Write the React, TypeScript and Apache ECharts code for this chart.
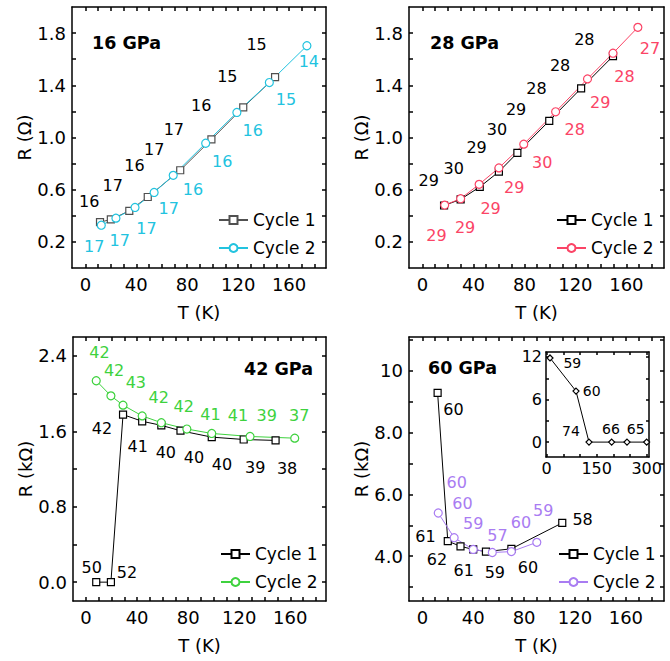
import React, { useEffect, useRef } from "react";
import * as echarts from "echarts";

const FONT = "'DejaVu Sans', sans-serif";

// ---------- tick values / labels ----------
const tTicks = [0, 10, 20, 30, 40, 50, 60, 70, 80, 90, 100, 110, 120, 130, 140, 150, 160, 170, 180];
const tLabels = [0, 40, 80, 120, 160];
const ohmTicks = [0.2, 0.4, 0.6, 0.8, 1.0, 1.2, 1.4, 1.6, 1.8];
const ohmLabels = [0.2, 0.6, 1.0, 1.4, 1.8];
const k42Ticks = [0, 0.4, 0.8, 1.2, 1.6, 2.0, 2.4];
const k42Labels = [0, 0.8, 1.6, 2.4];
const k60Ticks = [3, 4, 5, 6, 7, 8, 9, 10, 11];
const k60Labels = [4, 6, 8, 10];
const insetTTicks = [0, 50, 100, 150, 200, 250, 300];
const insetTLabels = [0, 150, 300];
const insetRTicks = [0, 3, 6, 9, 12];
const insetRLabels = [0, 6, 12];

// ---------- 16 GPa (Ω) ----------
const p16Cycle1T = [11.5, 20, 34.5, 49, 74.5, 99, 124, 149];
const p16Cycle1R = [0.351, 0.372, 0.438, 0.544, 0.749, 0.985, 1.231, 1.462];
const p16Cycle2T = [12.5, 24, 39, 54, 69, 94.5, 119, 144.5, 174];
const p16Cycle2R = [0.328, 0.382, 0.464, 0.579, 0.71, 0.956, 1.192, 1.421, 1.703];
const p16Tag1 = ["16", "17", "16", "17", "17", "16", "15", "15"];
const p16Tag1T = [3, 21.5, 38.5, 54, 69.5, 91, 111.5, 134.5];
const p16Tag1R = [0.508, 0.633, 0.782, 0.91, 1.064, 1.249, 1.469, 1.713];
const p16Tag2 = ["17", "17", "17", "17", "16", "16", "16", "15", "14"];
const p16Tag2T = [7, 27, 48, 65.5, 84.5, 107.5, 131.5, 157.5, 175.5];
const p16Tag2R = [0.162, 0.213, 0.303, 0.454, 0.603, 0.813, 1.056, 1.295, 1.582];

// ---------- 28 GPa (Ω) ----------
const p28Cycle1T = [17, 30, 45, 60, 74.5, 99.5, 124.5, 149.5];
const p28Cycle1R = [0.479, 0.526, 0.621, 0.738, 0.882, 1.128, 1.377, 1.623];
const p28Cycle2T = [17.5, 30, 44.5, 60, 79.5, 104.5, 129.5, 149.5, 169];
const p28Cycle2R = [0.482, 0.531, 0.641, 0.767, 0.949, 1.197, 1.449, 1.646, 1.844];
const p28Tag1 = ["29", "30", "29", "30", "29", "28", "28", "28"];
const p28Tag1T = [5, 24.5, 42.5, 58.5, 73.5, 89.5, 108, 127];
const p28Tag1R = [0.667, 0.762, 0.923, 1.064, 1.218, 1.377, 1.551, 1.749];
const p28Tag2 = ["29", "29", "29", "29", "30", "28", "29", "28", "27"];
const p28Tag2T = [11, 33.5, 53.5, 72, 94, 119.5, 139.5, 158.5, 178.5];
const p28Tag2R = [0.249, 0.308, 0.456, 0.615, 0.808, 1.064, 1.269, 1.469, 1.685];

// ---------- 42 GPa (kΩ) ----------
const p42Cycle1T = [8, 19.5, 29, 44, 59, 74, 98.5, 123.5, 148.5];
const p42Cycle1R = [0, 0, 1.777, 1.706, 1.663, 1.606, 1.538, 1.513, 1.503];
const p42Cycle2T = [8, 19.5, 29, 44, 59, 79, 98.5, 128.5, 163.5];
const p42Cycle2R = [2.136, 1.976, 1.877, 1.763, 1.691, 1.624, 1.577, 1.545, 1.527];
const p42Tag1 = ["50", "52", "42", "41", "40", "40", "40", "39", "38"];
const p42Tag1T = [4.5, 32, 12.5, 40.5, 62.5, 84.5, 106.5, 132.5, 157.5];
const p42Tag1R = [0.156, 0.103, 1.634, 1.438, 1.371, 1.325, 1.253, 1.218, 1.207];
const p42Tag2 = ["42", "42", "43", "42", "42", "41", "41", "39", "37"];
const p42Tag2T = [10.5, 22, 39, 57, 76.5, 97.5, 119, 141.5, 167];
const p42Tag2R = [2.439, 2.24, 2.115, 1.958, 1.859, 1.777, 1.763, 1.763, 1.763];

// ---------- 60 GPa (kΩ) ----------
const p60Cycle1T = [12, 20, 30, 40, 50, 70, 110];
const p60Cycle1R = [9.29, 4.49, 4.32, 4.22, 4.15, 4.24, 5.08];
const p60Cycle2T = [12.5, 25, 40, 55, 70, 90];
const p60Cycle2R = [5.4, 4.6, 4.22, 4.12, 4.15, 4.45];
const p60Tag1 = ["60", "61", "62", "61", "59", "60", "58"];
const p60Tag1T = [24.5, 2.5, 11.5, 32.5, 57, 83, 126];
const p60Tag1R = [8.75, 4.65, 3.88, 3.54, 3.46, 3.64, 5.18];
const p60Tag2 = ["60", "60", "59", "57", "60", "59"];
const p60Tag2T = [27, 31.5, 40, 59, 77.5, 95];
const p60Tag2R = [6.4, 5.72, 5.07, 4.67, 5.08, 5.48];

// ---------- 60 GPa inset ----------
const insetT = [10, 88, 127, 195, 241, 300];
const insetR = [11.86, 7.19, 0, 0, 0, 0];
const insetTag = ["59", "60", "74", "66", "65"];
const insetTagT = [77, 135, 73, 193, 267];
const insetTagR = [11.16, 7.24, 1.63, 1.82, 1.82];

const BLACK = "#000000";
const GREY = "#505050";
const CYAN = "#22c3df";
const RED = "#fb4466";
const GREEN = "#3ed23e";
const PURPLE = "#a97cf2";

const legendNames: Record<string, string> = {
  a1: "Cycle 1", a2: "Cycle 2", b1: "Cycle 1", b2: "Cycle 2",
  c1: "Cycle 1", c2: "Cycle 2", d1: "Cycle 1", d2: "Cycle 2",
};

const axisLine = { color: "#000", width: 1.5 };

function buildAxes(
  gi: number, xr: number[], yr: number[], xt: number[], xl: number[], yt: number[], yl: number[],
  yFmt: (v: number) => string, xName: string, yName: string, inset: boolean
) {
  const fs = inset ? 16 : 18;
  const tickLen = inset ? 3 : 4;
  const xBottom: any = {
    type: "value", gridIndex: gi, position: "bottom", min: xr[0], max: xr[1],
    axisLine: { show: true, onZero: false, lineStyle: axisLine },
    axisTick: { show: true, inside: true, length: tickLen, lineStyle: axisLine, customValues: xt },
    axisLabel: { show: true, margin: inset ? 3 : 7, customValues: xl, fontSize: fs, fontFamily: FONT, color: "#000", formatter: (v: number) => String(v) },
    splitLine: { show: false },
    name: xName, nameLocation: "middle", nameGap: 35,
    nameTextStyle: { fontSize: 18, fontFamily: FONT, color: "#000" },
  };
  const xTop: any = {
    type: "value", gridIndex: gi, position: "top", min: xr[0], max: xr[1],
    axisLine: { show: true, onZero: false, lineStyle: axisLine },
    axisTick: { show: true, inside: true, length: tickLen, lineStyle: axisLine, customValues: xt },
    axisLabel: { show: false },
    splitLine: { show: false },
  };
  const yLeft: any = {
    type: "value", gridIndex: gi, position: "left", min: yr[0], max: yr[1],
    axisLine: { show: true, onZero: false, lineStyle: axisLine },
    axisTick: { show: true, inside: true, length: tickLen, lineStyle: axisLine, customValues: yt },
    axisLabel: { show: true, margin: inset ? 4 : 6, customValues: yl, fontSize: fs, fontFamily: FONT, color: "#000", formatter: yFmt },
    splitLine: { show: false },
    name: yName, nameLocation: "middle", nameGap: 37,
    nameTextStyle: { fontSize: 18, fontFamily: FONT, color: "#000" },
  };
  const yRight: any = {
    type: "value", gridIndex: gi, position: "right", min: yr[0], max: yr[1],
    axisLine: { show: true, onZero: false, lineStyle: axisLine },
    axisTick: { show: true, inside: true, length: tickLen, lineStyle: axisLine, customValues: yt },
    axisLabel: { show: false },
    splitLine: { show: false },
  };
  return { x: [xBottom, xTop], y: [yLeft, yRight] };
}

function zip(t: number[], r: number[]) {
  return t.map((v, i) => [v, r[i]]);
}

function lineSeries(name: string, gi: number, T: number[], R: number[], color: string, symbol: string, size: number) {
  return {
    type: "line", name, xAxisIndex: 2 * gi, yAxisIndex: 2 * gi, data: zip(T, R),
    symbol, symbolSize: size, showAllSymbol: true, clip: false,
    lineStyle: { color, width: 1 },
    itemStyle: { color: "#fff", borderColor: color, borderWidth: 1.2 },
    emphasis: { disabled: true }, z: 3,
  };
}

function tagSeries(gi: number, T: number[], R: number[], tags: string[], color: string, fs: number) {
  return {
    type: "scatter", xAxisIndex: 2 * gi, yAxisIndex: 2 * gi, data: zip(T, R),
    symbol: "circle", symbolSize: 1, silent: true, clip: false,
    itemStyle: { color: "rgba(255,255,255,0)", opacity: 1 },
    label: { show: true, position: "inside", formatter: (p: any) => tags[p.dataIndex], color, opacity: 1, fontSize: fs, fontFamily: FONT, textBorderWidth: 0 },
    emphasis: { disabled: true }, z: 4,
  };
}

function legendAt(names: string[], left: number, top: number) {
  return {
    data: names, left, top, orient: "vertical", padding: 0,
    itemWidth: 29, itemHeight: 10, itemGap: 11, selectedMode: false,
    formatter: (n: string) => legendNames[n],
    textStyle: { fontSize: 17, fontFamily: FONT, color: "#000", lineHeight: 17 },
  };
}

export default function App() {
  const ref = useRef<HTMLDivElement>(null);
  useEffect(() => {
    if (!ref.current) return;
    const chart = echarts.init(ref.current, undefined, { renderer: "svg" });
    const f1 = (v: number) => v.toFixed(1);
    const f60 = (v: number) => (v >= 10 ? String(v) : v.toFixed(1));
    const fi = (v: number) => String(v);
    const axesList = [
      buildAxes(0, [-10.5, 189], [0, 2.0], tTicks, tLabels, ohmTicks, ohmLabels, f1, "T (K)", "R (Ω)", false),
      buildAxes(1, [-10.5, 189.5], [0, 2.0], tTicks, tLabels, ohmTicks, ohmLabels, f1, "T (K)", "R (Ω)", false),
      buildAxes(2, [-10.2, 188], [-0.2, 2.6], tTicks, tLabels, k42Ticks, k42Labels, f1, "T (K)", "R (kΩ)", false),
      buildAxes(3, [-10.5, 190], [2.55, 11.1], tTicks, tLabels, k60Ticks, k60Labels, f60, "T (K)", "R (kΩ)", false),
      buildAxes(4, [-2, 307], [-2.1, 12.7], insetTTicks, insetTLabels, insetRTicks, insetRLabels, fi, "", "", true),
    ];
    const option: any = {
      animation: false,
      backgroundColor: "#fff",
      grid: [
        { left: 72, top: 7, width: 254, height: 261 },
        { left: 409, top: 7, width: 255, height: 261 },
        { left: 73, top: 337, width: 253, height: 264 },
        { left: 409, top: 337, width: 255, height: 264 },
        { left: 546, top: 352, width: 103, height: 105, show: true, backgroundColor: "#fff", borderWidth: 0 },
      ],
      xAxis: axesList.flatMap((a) => a.x),
      yAxis: axesList.flatMap((a) => a.y),
      legend: [
        legendAt(["a1", "a2"], 218, 211.5),
        legendAt(["b1", "b2"], 556, 211.5),
        legendAt(["c1", "c2"], 220, 545.5),
        legendAt(["d1", "d2"], 558, 545.5),
      ],
      series: [
        lineSeries("a1", 0, p16Cycle1T, p16Cycle1R, GREY, "rect", 7),
        lineSeries("a2", 0, p16Cycle2T, p16Cycle2R, CYAN, "circle", 8),
        tagSeries(0, p16Tag1T, p16Tag1R, p16Tag1, BLACK, 16),
        tagSeries(0, p16Tag2T, p16Tag2R, p16Tag2, CYAN, 16),

        lineSeries("b1", 1, p28Cycle1T, p28Cycle1R, BLACK, "rect", 7),
        lineSeries("b2", 1, p28Cycle2T, p28Cycle2R, RED, "circle", 8),
        tagSeries(1, p28Tag1T, p28Tag1R, p28Tag1, BLACK, 16),
        tagSeries(1, p28Tag2T, p28Tag2R, p28Tag2, RED, 16),

        lineSeries("c1", 2, p42Cycle1T, p42Cycle1R, BLACK, "rect", 7),
        lineSeries("c2", 2, p42Cycle2T, p42Cycle2R, GREEN, "circle", 8),
        tagSeries(2, p42Tag1T, p42Tag1R, p42Tag1, BLACK, 16),
        tagSeries(2, p42Tag2T, p42Tag2R, p42Tag2, GREEN, 16),

        lineSeries("d1", 3, p60Cycle1T, p60Cycle1R, BLACK, "rect", 7),
        lineSeries("d2", 3, p60Cycle2T, p60Cycle2R, PURPLE, "circle", 8),
        tagSeries(3, p60Tag1T, p60Tag1R, p60Tag1, BLACK, 16),
        tagSeries(3, p60Tag2T, p60Tag2R, p60Tag2, PURPLE, 16),

        lineSeries("inset", 4, insetT, insetR, BLACK, "diamond", 6),
        tagSeries(4, insetTagT, insetTagR, insetTag, BLACK, 14),
      ],
      graphic: [
        { type: "text", x: 92, y: 43, style: { text: "16 GPa", font: `bold 17.5px ${FONT}`, fill: "#000", align: "left", verticalAlign: "middle" } },
        { type: "text", x: 430, y: 43, style: { text: "28 GPa", font: `bold 17.5px ${FONT}`, fill: "#000", align: "left", verticalAlign: "middle" } },
        { type: "text", x: 313, y: 369, style: { text: "42 GPa", font: `bold 17.5px ${FONT}`, fill: "#000", align: "right", verticalAlign: "middle" } },
        { type: "text", x: 428, y: 368, style: { text: "60 GPa", font: `bold 17.5px ${FONT}`, fill: "#000", align: "left", verticalAlign: "middle" } },
      ],
    };
    chart.setOption(option);
    return () => chart.dispose();
  }, []);
  return <div ref={ref} style={{ position: "fixed", left: 0, top: 0, width: 670, height: 661 }} />;
}
